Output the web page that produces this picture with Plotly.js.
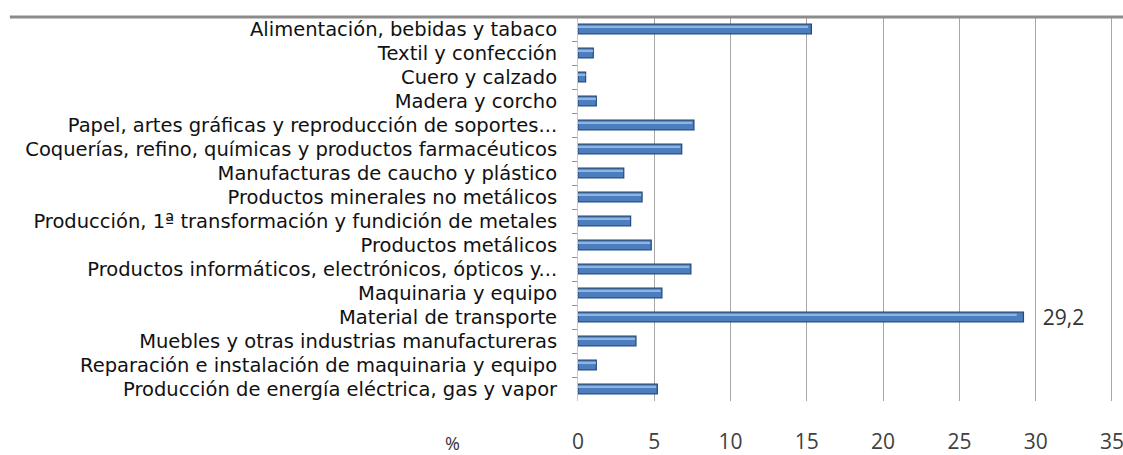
<!DOCTYPE html>
<html>
<head>
<meta charset="utf-8">
<script src="https://cdn.plot.ly/plotly-3.0.1.min.js"></script>
<style>html,body{margin:0;padding:0;background:#fff;}#chart{width:1123px;height:455px;}</style>
</head>
<body>
<div id="chart"></div>
<script>
const categories = [
  "Alimentación, bebidas y tabaco",
  "Textil y confección",
  "Cuero y calzado",
  "Madera y corcho",
  "Papel, artes gráficas y reproducción de soportes...",
  "Coquerías, refino, químicas y productos farmacéuticos",
  "Manufacturas de caucho y plástico",
  "Productos minerales no metálicos",
  "Producción, 1ª transformación y fundición de metales",
  "Productos metálicos",
  "Productos informáticos, electrónicos, ópticos y...",
  "Maquinaria y equipo",
  "Material de transporte",
  "Muebles y otras industrias manufactureras",
  "Reparación e instalación de maquinaria y equipo",
  "Producción de energía eléctrica, gas y vapor"
];
const values = [15.3, 1.0, 0.5, 1.2, 7.6, 6.8, 3.0, 4.2, 3.45, 4.8, 7.4, 5.5, 29.2, 3.8, 1.2, 5.2];
const xTicks = [0, 5, 10, 15, 20, 25, 30, 35];
const labelledValue = 29.2;
const axisUnit = "%";

const barText = values.map(v => v === labelledValue ? "   " + v.toFixed(1).replace(".", ",") : "");

const mainBars = {
  type: "bar",
  orientation: "h",
  y: categories,
  x: values,
  width: 0.4,
  text: barText,
  textposition: "outside",
  constraintext: "none",
  cliponaxis: false,
  textfont: {family: "Open Sans, sans-serif", size: 21, color: "#333"},
  marker: {color: "#4a7ebf", line: {color: "#24497a", width: 1.2}},
  hoverinfo: "x+y"
};
const highlight = {
  type: "bar",
  orientation: "h",
  y: categories,
  x: values.map(v => v * 0.985),
  width: 0.1,
  offset: -0.14,
  marker: {color: "#8fb5e6", line: {width: 0}},
  hoverinfo: "skip"
};

const layout = {
  width: 1123, height: 455,
  margin: {l: 578, r: 8, t: 17, b: 54},
  paper_bgcolor: "#fff", plot_bgcolor: "#fff",
  barmode: "overlay",
  showlegend: false,
  xaxis: {
    range: [0, 35.2],
    tickvals: xTicks,
    ticktext: xTicks.map(String),
    ticklabeloverflow: "allow",
    showgrid: true, gridcolor: "#a6a6a6", gridwidth: 1,
    zeroline: false, showline: false, ticks: "",
    ticklabelstandoff: 26,
    tickfont: {family: "Open Sans, sans-serif", size: 21, color: "#404040"}
  },
  yaxis: {
    type: "category",
    autorange: "reversed",
    showgrid: false, zeroline: false,
    showline: true, linecolor: "#c8c8c8", linewidth: 1,
    ticks: "outside", tickson: "boundaries", ticklen: 5, tickcolor: "#909090",
    ticklabelstandoff: 16,
    tickfont: {family: "DejaVu Sans, sans-serif", size: 19.5, color: "#111"}
  },
  shapes: [{
    type: "line", xref: "paper", yref: "paper",
    x0: -1.058, x1: 1.02, y0: 1.0, y1: 1.0,
    line: {color: "#8c8c8c", width: 3}
  }],
  annotations: [{
    text: axisUnit, xref: "paper", yref: "paper",
    x: -0.2346, y: -0.11, xanchor: "center", yanchor: "middle",
    showarrow: false,
    font: {family: "Open Sans, sans-serif", size: 18, color: "#333"}
  }]
};

Plotly.newPlot("chart", [mainBars, highlight], layout, {staticPlot: true, displayModeBar: false});
</script>
</body>
</html>
